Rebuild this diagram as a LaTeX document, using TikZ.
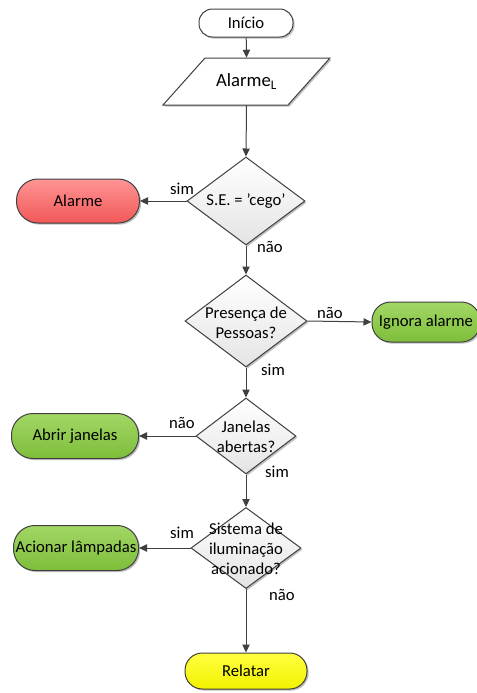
\documentclass[tikz,border=0pt]{standalone}
\usepackage{fontspec}
\setmainfont{Carlito}
\usetikzlibrary{shapes.geometric,arrows.meta,shadows}
\definecolor{ln}{HTML}{404040}
\definecolor{redtop}{HTML}{FF9494}
\definecolor{redbot}{HTML}{F25858}
\definecolor{grtop}{HTML}{A2D765}
\definecolor{grbot}{HTML}{7EBE3B}
\definecolor{yetop}{HTML}{FFFF40}
\definecolor{yebot}{HTML}{F2F200}
\definecolor{dgtop}{HTML}{FFFFFF}
\definecolor{dgbot}{HTML}{E4E4E4}
\begin{document}
\begin{tikzpicture}[x=0.75pt,y=-0.75pt,
  font=\fontsize{12.5}{15}\selectfont,
  shd/.style={drop shadow={shadow xshift=1.2pt,shadow yshift=-1.2pt,opacity=0.25,fill=black}},
  term/.style={draw=ln,line width=0.75pt,rectangle,rounded corners=16pt,inner sep=0pt,shd},
  redterm/.style={term,top color=redtop,bottom color=redbot},
  greenterm/.style={term,top color=grtop,bottom color=grbot},
  yellowterm/.style={term,top color=yetop,bottom color=yebot},
  decision/.style={draw=ln,line width=0.75pt,diamond,inner sep=0pt,top color=dgtop,bottom color=dgbot,shd},
  flow/.style={draw=ln,line width=0.75pt,-{Triangle[length=6pt,width=5.5pt]}},
  lab/.style={inner sep=0pt,align=center}
]
\useasboundingbox (0,0) rectangle (477,693);

% start
\node[term,rounded corners=10pt,fill=white,minimum width=70.5pt,minimum height=21pt] (start) at (246,23) {Início};

% input parallelogram
\draw[draw=ln,line width=0.75pt,fill=white,shd] (163,105) -- (205,58) -- (330,58) -- (288,105) -- cycle;
\node[minimum width=100pt,minimum height=35.25pt,inner sep=0pt] (inp) at (246.5,81.5) {\fontsize{14}{16}\selectfont Alarme\textsubscript{L}};

% decisions
\node[decision,minimum width=88.5pt,minimum height=66pt] (d1) at (246,201) {};
\node[lab] (t1) at (246,201) {S.E. = ’cego’};
\node[decision,minimum width=91.5pt,minimum height=69pt] (d2) at (246,321) {};
\node[lab] (t2) at (246,323) {Presença de\\Pessoas?};
\node[decision,minimum width=75pt,minimum height=57pt] (d3) at (246,436) {};
\node[lab] (t3) at (246,437) {Janelas\\abertas?};
\node[decision,minimum width=82.5pt,minimum height=60.75pt] (d4) at (246,548) {};
\node[lab] (t4) at (246,549) {Sistema de\\iluminação\\acionado?};

% terminals
\node[redterm,minimum width=92.25pt,minimum height=33pt] (alarme) at (78,201) {Alarme};
\node[greenterm,minimum width=81pt,minimum height=30pt,rounded corners=14pt] (ignora) at (426,322) {Ignora alarme};
\node[greenterm,minimum width=95.25pt,minimum height=33.75pt] (abrir) at (75,436) {Abrir janelas};
\node[greenterm,minimum width=93.75pt,minimum height=33.75pt] (acionar) at (76,548) {Acionar lâmpadas};
\node[yellowterm,minimum width=91.5pt,minimum height=27pt,rounded corners=13pt] (relatar) at (246,671) {Relatar};

% connectors
\draw[flow] (start) -- (inp.north);
\draw[flow] (inp.south) -- (d1.north);
\draw[flow] (d1.west) -- (alarme.east);
\draw[flow] (d1.south) -- (d2.north);
\draw[flow] (d2.east) -- (ignora.west);
\draw[flow] (d2.south) -- (d3.north);
\draw[flow] (d3.west) -- (abrir.east);
\draw[flow] (d3.south) -- (d4.north);
\draw[flow] (d4.west) -- (acionar.east);
\draw[flow] (d4.south) -- (relatar.north);

% labels
\node[lab] (l1) at (182,189) {sim};
\node[lab] (l2) at (270,247) {não};
\node[lab] (l3) at (330,313) {não};
\node[lab] (l4) at (273,370) {sim};
\node[lab] (l5) at (182,423) {não};
\node[lab] (l6) at (277,472) {sim};
\node[lab] (l7) at (182,533) {sim};
\node[lab] (l8) at (282,595) {não};
\end{tikzpicture}
\end{document}
